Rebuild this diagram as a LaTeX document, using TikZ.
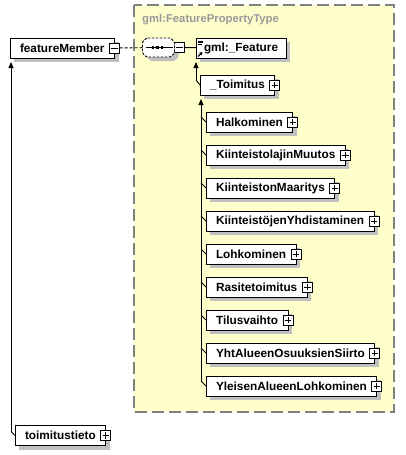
\documentclass[tikz,border=0pt]{standalone}
\usepackage{fontspec}
\setmainfont{Liberation Sans}
\usepackage{xcolor}
\usetikzlibrary{arrows.meta,positioning,calc}
\definecolor{areaYellow}{HTML}{FFFFCC}
\definecolor{areaGrey}{HTML}{808080}
\definecolor{typeGrey}{HTML}{9A9A9A}
\definecolor{shadowGrey}{HTML}{C0C0C0}
\pgfdeclarelayer{areabg}
\pgfdeclarelayer{shade}
\pgfsetlayers{areabg,shade,main}
\tikzset{
  elem/.style={draw, fill=white, anchor=west, line width=0.9pt, outer sep=0pt, minimum height=20pt, inner xsep=10pt, inner ysep=0pt,
    font=\fontsize{11.8}{13}\selectfont\bfseries},
  expander/.style={draw, fill=white, line width=0.8pt, minimum size=10pt, inner sep=0pt, outer sep=0pt},
  plus/.style={expander, path picture={
    \draw ([xshift=-3.2pt]path picture bounding box.center) -- ([xshift=3.2pt]path picture bounding box.center)
          ([yshift=-3.2pt]path picture bounding box.center) -- ([yshift=3.2pt]path picture bounding box.center);}},
  minus/.style={expander, path picture={
    \draw ([xshift=-3.2pt]path picture bounding box.center) -- ([xshift=3.2pt]path picture bounding box.center);}},
  seqbox/.style={minimum width=32pt, minimum height=19pt, inner sep=0pt, outer sep=0pt},
  seqline/.style={draw, fill=white, dash pattern=on 2.5pt off 1.5pt, line width=0.9pt, rounded corners=1pt},
  typearea/.style={fill=areaYellow, draw=areaGrey, line width=1.3pt, dash pattern=on 12pt off 5pt},
  typelabel/.style={text=typeGrey, font=\fontsize{11.3}{13}\selectfont\bfseries, inner sep=0pt},
  tree/.style={line width=0.9pt, -{Triangle[length=6pt,width=5pt]}},
  branch/.style={line width=0.9pt}
}
% octagon of a sequence node, shifted by #2
\newcommand\octopath[2]{([shift={(4+#2,#2)}]#1.north west) -- ([shift={(-4+#2,#2)}]#1.north east)
  -- ([shift={(#2,4+#2)}]#1.north east) -- ([shift={(#2,-4+#2)}]#1.south east)
  -- ([shift={(-4+#2,#2)}]#1.south east) -- ([shift={(4+#2,#2)}]#1.south west)
  -- ([shift={(#2,-4+#2)}]#1.south west) -- ([shift={(#2,4+#2)}]#1.north west) -- cycle}
\begin{document}
\begin{tikzpicture}[x=1pt, y=-1pt]
  \useasboundingbox (0,0) rectangle (405,455);
  \begin{pgfonlayer}{areabg}
    \draw[typearea] (134,5) rectangle (394,412);
  \end{pgfonlayer}
  \node[typelabel, anchor=base west] (ftname) at (142,23) {gml:FeaturePropertyType};

  % top row
  \node[elem] (fm) at (10,48) {featureMember};
  \node[minus] (fm-x) at (fm.east) {};
  \node[seqbox] (seq) at (158.5,47.5) {};
  \node[minus, right=0pt of seq] (seq-x) {};
  \node[elem, inner xsep=8pt] (feat) at (196,48) {gml:\_Feature};
  \draw[branch, dash pattern=on 3pt off 2pt] (fm-x) -- (seq);
  \draw[branch] (seq-x) -- (feat);
  \path[seqline] \octopath{seq}{0};
  \draw[line width=1.2pt] ([xshift=-13pt]seq.center) -- ([xshift=14pt]seq.center);
  \foreach \dx in {-5.5,-1,3.5}
    \fill ([shift={(\dx-1.3,-1.3)}]seq.center) rectangle ++(2.6,2.6);
  \foreach \dy/\len in {3/5,4.6/5,6.2/4}
    \draw[line width=0.7pt] ([shift={(2,\dy)}]feat.north west) -- ++(\len,0);
  \draw[line width=1.1pt, -{Triangle[length=3pt,width=3.5pt]}] ([shift={(2,-1.5)}]feat.south west) -- ++(4.5,-4.5);

  % substitution group
  \node[elem] (toim) at (200,85) {\_Toimitus};
  \node[plus] (toim-x) at (toim.east) {};
  \draw[tree] ($(toim.west)+(-4,-5)$) -- ($(toim.west |- feat.south)+(-4,4)$);
  \draw[branch] (toim.west) -- ++(-4,-5);

  \node[elem] (halk) at (206,122) {Halkominen};
  \node[elem, below right=13pt and 0pt of halk.south west] (kmuut) {KiinteistolajinMuutos};
  \node[elem, below right=13pt and 0pt of kmuut.south west] (kmaar) {KiinteistonMaaritys};
  \node[elem, below right=13pt and 0pt of kmaar.south west] (kyhd) {KiinteistöjenYhdistaminen};
  \node[elem, below right=13pt and 0pt of kyhd.south west] (lohk) {Lohkominen};
  \node[elem, below right=13pt and 0pt of lohk.south west] (rasi) {Rasitetoimitus};
  \node[elem, below right=13pt and 0pt of rasi.south west] (tilus) {Tilusvaihto};
  \node[elem, below right=13pt and 0pt of tilus.south west] (yhtal) {YhtAlueenOsuuksienSiirto};
  \node[elem, below right=13pt and 0pt of yhtal.south west] (yleis) {YleisenAlueenLohkominen};
  \foreach \n in {halk,kmuut,kmaar,kyhd,lohk,rasi,tilus,yhtal,yleis} {
    \node[plus] (\n-x) at (\n.east) {};
    \draw[branch] (\n.west) -- ++(-5,-5);
  }
  \draw[tree] ($(yleis.west)+(-5,-5)$) -- ($(halk.west |- toim.south)+(-5,4)$);

  % second member
  \node[elem] (tieto) at (15,435.5) {toimitustieto};
  \node[plus] (tieto-x) at (tieto.east) {};
  \draw[tree] ($(tieto.west)+(-4,-4)$) -- ($(tieto.west |- fm.south)+(-4,4)$);
  \draw[branch] (tieto.west) -- ++(-4,-4);

  % drop shadows
  \begin{pgfonlayer}{shade}
    \foreach \n in {fm,feat,toim,halk,kmuut,kmaar,kyhd,lohk,rasi,tilus,yhtal,yleis,tieto}
      \fill[shadowGrey] ([shift={(4,4)}]\n.north west) rectangle ([shift={(4,4)}]\n.south east);
    \fill[shadowGrey, rounded corners=1pt] \octopath{seq}{4};
  \end{pgfonlayer}
\end{tikzpicture}
\end{document}
